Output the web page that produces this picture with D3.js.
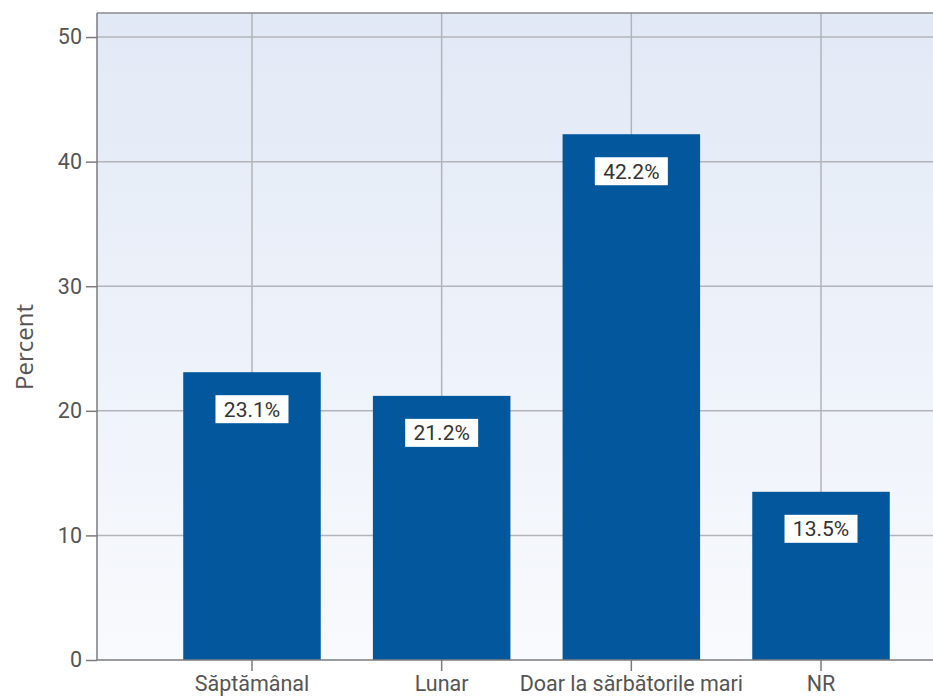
<!DOCTYPE html>
<html>
<head>
<meta charset="utf-8">
<script src="https://cdn.jsdelivr.net/npm/d3@7"></script>
<style>
  body { margin: 0; background: #fff; }
  svg { display: block; }
</style>
</head>
<body>
<div class="chart"></div>
<script>
// chart data
const categories = ["Săptămânal", "Lunar", "Doar la sărbătorile mari", "NR"];
const percents = [23.1, 21.2, 42.2, 13.5];
const yTicks = [0, 10, 20, 30, 40, 50];

const width = 933, height = 697;
const plotLeft = 97, plotTop = 13, plotRight = 976, plotBottom = 660;

let svg = d3.select('.chart')
    .append("svg")
    .attr("width", width)
    .attr("height", height);

// background gradient
let grad = svg.append("defs").append("linearGradient")
    .attr("id", "bg")
    .attr("x1", 0).attr("y1", 0).attr("x2", 0).attr("y2", 1);
grad.append("stop").attr("offset", "0%").attr("stop-color", "#e2e9f6");
grad.append("stop").attr("offset", "100%").attr("stop-color", "#f8fafd");

let yScale = d3.scaleLinear()
    .domain([0, 51.93])
    .range([plotBottom, plotTop]);

let xScale = d3.scaleBand()
    .domain(categories)
    .range([plotLeft, plotRight])
    .paddingInner(0.275)
    .paddingOuter(0.4546);

svg.append("rect")
    .attr("x", plotLeft).attr("y", plotTop)
    .attr("width", plotRight - plotLeft).attr("height", plotBottom - plotTop)
    .attr("fill", "url(#bg)");

// grid
svg.append("g").selectAll("line")
    .data(yTicks.slice(1))
    .enter().append("line")
    .attr("x1", plotLeft).attr("x2", plotRight)
    .attr("y1", d => yScale(d)).attr("y2", d => yScale(d))
    .attr("stroke", "#b3b4b9").attr("stroke-width", 1.5);

svg.append("g").selectAll("line")
    .data(categories)
    .enter().append("line")
    .attr("x1", d => xScale(d) + xScale.bandwidth() / 2)
    .attr("x2", d => xScale(d) + xScale.bandwidth() / 2)
    .attr("y1", plotTop).attr("y2", plotBottom)
    .attr("stroke", "#b3b4b9").attr("stroke-width", 1.5);

// top border
svg.append("line")
    .attr("x1", plotLeft).attr("x2", plotRight)
    .attr("y1", plotTop).attr("y2", plotTop)
    .attr("stroke", "#8a8a8e").attr("stroke-width", 1.5);

// bars
svg.append("g").selectAll("rect")
    .data(percents)
    .enter().append("rect")
    .attr("x", (d, i) => xScale(categories[i]))
    .attr("y", d => yScale(d))
    .attr("width", xScale.bandwidth())
    .attr("height", d => plotBottom - yScale(d))
    .attr("fill", "#03589d");

// value labels
let labels = svg.append("g").selectAll("g")
    .data(percents)
    .enter().append("g")
    .attr("transform", (d, i) => "translate(" + (xScale(categories[i]) + xScale.bandwidth() / 2) + "," + (yScale(d) + 37) + ")");
labels.append("rect")
    .attr("x", -36.5).attr("y", -14)
    .attr("width", 73).attr("height", 28)
    .attr("fill", "#fff");
labels.append("text")
    .attr("text-anchor", "middle")
    .attr("dy", "0.36em")
    .attr("font-family", "Roboto")
    .attr("font-size", 21)
    .attr("fill", "#333")
    .text(d => d.toFixed(1) + "%");

// axes
let yAxis = d3.axisLeft(yScale).tickValues(yTicks).tickSize(11).tickPadding(4);
let gy = svg.append("g")
    .attr("transform", "translate(" + plotLeft + ",0)")
    .call(yAxis);

let xAxis = d3.axisBottom(xScale).tickSize(11).tickPadding(5);
let gx = svg.append("g")
    .attr("transform", "translate(0," + plotBottom + ")")
    .call(xAxis);

[gy, gx].forEach(g => {
    g.select(".domain").attr("stroke", "#7b7b7f").attr("stroke-width", 1.5);
    g.selectAll(".tick line").attr("stroke", "#7b7b7f").attr("stroke-width", 1.5);
    g.selectAll("text")
        .attr("font-family", "Roboto")
        .attr("font-size", 21.5)
        .attr("fill", "#555");
});
gy.select(".domain").attr("d", "M0," + plotBottom + "V" + plotTop);
gx.select(".domain").attr("d", "M" + plotLeft + ",0H" + plotRight);

// y title
svg.append("text")
    .attr("transform", "translate(33,347) rotate(-90)")
    .attr("text-anchor", "middle")
    .attr("font-family", "Open Sans")
    .attr("font-size", 24)
    .attr("fill", "#555")
    .text("Percent");
</script>
</body>
</html>
